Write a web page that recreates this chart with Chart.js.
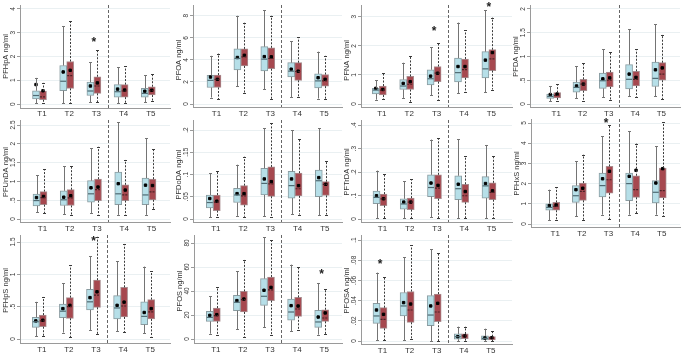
<!DOCTYPE html>
<html><head><meta charset="utf-8">
<script src="https://cdn.jsdelivr.net/npm/chart.js@4.4.0/dist/chart.umd.min.js"></script>
<style>
html,body{margin:0;padding:0;background:#fff;}
#wrap{position:relative;width:685px;height:356px;overflow:hidden;background:#fff;}
#wrap canvas{position:absolute;left:0;top:0;}
</style></head><body><div id="wrap"></div>
<script>
const categories = ['T1','T2','T3','T4','T5'];
// every row: [min, q1, median, q3, max, mean]  (A = light blue, B = dark red)
const PFHpA_A = [[0.04,0.22,0.36,0.56,1.10,0.82],[0.04,0.56,0.96,1.62,3.27,1.35],[0.07,0.36,0.55,0.92,1.76,0.76],[0.04,0.29,0.52,0.82,1.55,0.63],[0.07,0.29,0.45,0.66,1.22,0.54]];
const PFHpA_B = [[0.04,0.18,0.30,0.55,0.89,0.56],[0.04,0.66,1.20,1.79,3.50,1.42],[0.07,0.45,0.76,1.15,2.27,0.89],[0.04,0.29,0.55,0.82,1.60,0.59],[0.11,0.38,0.56,0.73,1.28,0.58]];
const PFOA_A = [[0.59,1.50,2.15,2.60,4.37,2.45],[1.62,3.10,4.13,5.00,8.00,4.22],[1.36,3.00,4.07,5.20,8.50,4.30],[0.62,2.45,2.98,3.75,5.70,3.16],[0.50,1.47,2.10,2.74,4.75,2.39]];
const PFOA_B = [[0.44,1.50,2.24,2.63,4.57,2.24],[1.03,3.45,4.28,5.00,7.37,4.42],[0.47,3.20,4.13,5.10,8.00,4.28],[0.62,2.15,2.95,3.75,6.05,2.98],[0.44,1.62,2.10,2.68,4.37,2.24]];
const PFNA_A = [[0.15,0.35,0.48,0.54,0.82,0.54],[0.21,0.50,0.62,0.84,1.42,0.71],[0.31,0.66,0.87,1.18,1.96,0.96],[0.37,0.76,1.08,1.58,2.80,1.29],[0.41,0.90,1.21,1.80,3.22,1.51]];
const PFNA_B = [[0.17,0.31,0.48,0.62,1.07,0.50],[0.08,0.50,0.68,0.95,1.65,0.77],[0.15,0.77,1.06,1.29,2.10,1.06],[0.41,0.90,1.18,1.55,2.54,1.29],[0.50,1.15,1.55,1.87,2.97,1.77]];
const PFDA_A = [[0.055,0.12,0.16,0.21,0.38,0.20],[0.12,0.25,0.35,0.46,0.79,0.38],[0.14,0.33,0.49,0.65,1.15,0.53],[0.16,0.32,0.52,0.83,1.57,0.63],[0.16,0.37,0.54,0.88,1.68,0.72]];
const PFDA_B = [[0.055,0.13,0.18,0.24,0.42,0.21],[0.055,0.28,0.42,0.52,0.87,0.42],[0.09,0.36,0.50,0.67,1.09,0.55],[0.14,0.38,0.52,0.69,1.15,0.56],[0.10,0.50,0.63,0.87,1.46,0.76]];
const PFUnDA_A = [[0.18,0.35,0.49,0.66,1.16,0.57],[0.13,0.36,0.51,0.75,1.40,0.58],[0.16,0.45,0.67,1.02,1.88,0.83],[0.11,0.38,0.67,1.25,2.57,0.94],[0.11,0.38,0.64,1.09,2.15,0.90]];
const PFUnDA_B = [[0.15,0.38,0.57,0.73,1.33,0.60],[0.11,0.36,0.56,0.78,1.40,0.62],[0.11,0.49,0.78,1.06,1.92,0.85],[0.11,0.49,0.64,0.91,1.57,0.77],[0.27,0.51,0.72,1.06,1.86,0.89]];
const PFDoDA_A = [[0.004,0.025,0.037,0.054,0.103,0.046],[0.007,0.037,0.054,0.069,0.122,0.057],[0.006,0.054,0.080,0.114,0.204,0.090],[0.011,0.047,0.075,0.107,0.200,0.090],[0.008,0.050,0.086,0.110,0.204,0.093]];
const PFDoDA_B = [[0.004,0.019,0.038,0.054,0.108,0.040],[0.005,0.031,0.052,0.075,0.140,0.057],[0.005,0.051,0.079,0.117,0.215,0.084],[0.010,0.052,0.068,0.103,0.179,0.075],[0.010,0.053,0.078,0.084,0.131,0.078]];
const PFTrDA_A = [[0.004,0.065,0.092,0.119,0.206,0.099],[0.004,0.042,0.064,0.086,0.160,0.072],[0.007,0.095,0.134,0.188,0.338,0.153],[0.004,0.082,0.129,0.184,0.339,0.148],[0.004,0.089,0.141,0.180,0.315,0.151]];
const PFTrDA_B = [[0.004,0.057,0.086,0.106,0.192,0.086],[0.004,0.040,0.072,0.089,0.170,0.072],[0.004,0.086,0.131,0.188,0.343,0.143],[0.004,0.071,0.099,0.148,0.266,0.117],[0.004,0.082,0.113,0.154,0.266,0.120]];
const PFHxS_A = [[0.18,0.68,0.82,1.00,1.70,0.91],[0.38,1.07,1.40,1.90,3.10,1.70],[0.46,1.34,1.90,2.52,4.34,2.24],[0.46,1.16,2.00,2.52,4.59,2.36],[0.46,1.04,1.57,2.15,3.85,2.03]];
const PFHxS_B = [[0.21,0.68,0.87,1.07,1.82,0.94],[0.21,1.17,1.62,2.03,3.43,1.77],[0.25,1.53,2.19,2.85,4.92,2.61],[0.54,1.32,1.70,2.39,3.98,2.66],[0.38,1.29,1.65,2.77,5.03,2.74]];
const PFHpS_A = [[0.046,0.18,0.267,0.334,0.575,0.28],[0.10,0.33,0.43,0.54,0.86,0.47],[0.14,0.45,0.575,0.77,1.28,0.64],[0.12,0.31,0.48,0.67,1.20,0.52],[0.087,0.22,0.35,0.575,1.12,0.41]];
const PFHpS_B = [[0.046,0.19,0.28,0.37,0.65,0.29],[0.026,0.32,0.50,0.64,1.14,0.52],[0.07,0.49,0.68,0.91,1.58,0.73],[0.11,0.34,0.51,0.80,1.47,0.57],[0.036,0.31,0.42,0.61,1.05,0.47]];
const PFOS_A = [[4.4,14.7,18.0,23.0,35.6,19.7],[8.3,23.6,30.6,36.4,56.4,32.0],[9.7,28.0,35.6,50.3,85.0,40.6],[6.7,15.6,22.5,33.3,62.0,27.8],[3.6,9.7,14.2,23.9,46.7,18.3]];
const PFOS_B = [[3.6,14.7,19.4,25.8,43.3,20.3],[1.7,22.5,32.8,39.7,66.0,33.3],[3.3,32.0,41.0,51.7,82.2,43.0],[7.8,18.9,25.0,34.7,59.7,27.5],[4.2,14.7,17.5,24.4,41.7,21.7]];
const PFOSA_A = [[0.001,0.0175,0.0248,0.0373,0.0677,0.0307],[0.001,0.0248,0.0347,0.048,0.083,0.038],[0.0,0.0152,0.0257,0.045,0.0908,0.0347],[0.0,0.0017,0.0043,0.007,0.0142,0.0043],[0.0,0.001,0.0026,0.005,0.0122,0.003]];
const PFOSA_B = [[0.001,0.0125,0.0215,0.033,0.063,0.0264],[0.002,0.0185,0.0307,0.049,0.095,0.0366],[0.0,0.0191,0.0287,0.0465,0.0875,0.0373],[0.0,0.0023,0.005,0.007,0.0142,0.005],[0.0,0.001,0.003,0.0043,0.0102,0.0033]];

// y-axis tick values
const PFHpA_ticks = [0,1,2,3,4];
const PFOA_ticks = [0,2,4,6,8];
const PFNA_ticks = [0,1,2,3];
const PFDA_ticks = [0,0.5,1,1.5,2];
const PFUnDA_ticks = [0,0.5,1,1.5,2,2.5];
const PFDoDA_ticks = [0,0.05,0.1,0.15,0.2];
const PFTrDA_ticks = [0,0.1,0.2,0.3,0.4];
const PFHxS_ticks = [0,1,2,3,4,5];
const PFHpS_ticks = [0,0.5,1,1.5];
const PFOS_ticks = [0,20,40,60,80];
const PFOSA_ticks = [0,0.02,0.04,0.06,0.08,0.1];

// significance stars: [category number, value]
const PFHpA_stars = [[3,2.72]];
const PFNA_stars = [[3,2.61],[5,3.45]];
const PFHxS_stars = [[3,5.13]];
const PFHpS_stars = [[3,1.56]];
const PFOS_stars = [[5,56.7]];
const PFOSA_stars = [[1,0.0795]];

// layout (pixels on the page)
const panels = [
  {title:'PFHpA ng/ml', a:PFHpA_A, b:PFHpA_B, ticks:PFHpA_ticks, stars:PFHpA_stars, L:{left:20,right:170,top:3,bottom:108,zero:104,maxPx:7,t1:39.5,sp:27.2,lab:114}},
  {title:'PFOA ng/ml', a:PFOA_A, b:PFOA_B, ticks:PFOA_ticks, stars:[], L:{left:193,right:342,top:3,bottom:107,zero:104,maxPx:14,t1:214,sp:26.9,lab:114}},
  {title:'PFNA ng/ml', a:PFNA_A, b:PFNA_B, ticks:PFNA_ticks, stars:PFNA_stars, L:{left:361,right:512,top:3,bottom:107,zero:104,maxPx:15,t1:379.3,sp:27.4,lab:114}},
  {title:'PFDA ng/ml', a:PFDA_A, b:PFDA_B, ticks:PFDA_ticks, stars:[], L:{left:530,right:684,top:3,bottom:107,zero:104,maxPx:7,t1:554.3,sp:27,lab:114}},
  {title:'PFUnDA ng/ml', a:PFUnDA_A, b:PFUnDA_B, ticks:PFUnDA_ticks, stars:[], L:{left:20,right:170,top:120,bottom:222,zero:219,maxPx:125,t1:40,sp:27.25,lab:229}},
  {title:'PFDoDA ng/ml', a:PFDoDA_A, b:PFDoDA_B, ticks:PFDoDA_ticks, stars:[], L:{left:193,right:342,top:120,bottom:222,zero:219,maxPx:130,t1:213.3,sp:27.25,lab:229}},
  {title:'PFTrDA ng/ml', a:PFTrDA_A, b:PFTrDA_B, ticks:PFTrDA_ticks, stars:[], L:{left:361,right:512,top:120,bottom:222,zero:219,maxPx:125,t1:380,sp:27.25,lab:229}},
  {title:'PFHxS ng/ml', a:PFHxS_A, b:PFHxS_B, ticks:PFHxS_ticks, stars:PFHxS_stars, L:{left:531,right:684,top:119,bottom:227,zero:224,maxPx:123,t1:553.3,sp:27.35,lab:234}},
  {title:'PFHpS ng/ml', a:PFHpS_A, b:PFHpS_B, ticks:PFHpS_ticks, stars:PFHpS_stars, L:{left:20,right:170,top:235,bottom:343,zero:339,maxPx:242,t1:39.3,sp:27.1,lab:350}},
  {title:'PFOS ng/ml', a:PFOS_A, b:PFOS_B, ticks:PFOS_ticks, stars:PFOS_stars, L:{left:194,right:342,top:235,bottom:343,zero:339,maxPx:243,t1:213.3,sp:27.1,lab:350}},
  {title:'PFOSA ng/ml', a:PFOSA_A, b:PFOSA_B, ticks:PFOSA_ticks, stars:PFOSA_stars, L:{left:361,right:512,top:235,bottom:344,zero:341,maxPx:240,t1:380,sp:27.1,lab:351}}
];

const FONT = '"Liberation Sans", Arial, sans-serif';
const BOX_W = 7;
const BLUE = '#b6dfe8', BLUE_EDGE = '#8a9ca1';
const RED = '#a6484f', RED_EDGE = '#a88c8f';
const AXIS = '#9a9a9a', GRID = '#eaf0f2', TEXT = '#333333';

function fmt(v){ if (v === 0) return '0'; return String(+v.toFixed(4)).replace(/^0\./, '.'); }

function makeExtras(p) {
  return {
    id: 'boxExtras',
    afterDatasetsDraw(chart) {
      const ctx = chart.ctx, xs = chart.scales.x, ys = chart.scales.y, ca = chart.chartArea;
      ctx.save();
      // dashed separator between T3 and T4
      const sx = Math.round(xs.getPixelForValue(3.5)) + 0.5;
      ctx.strokeStyle = '#666'; ctx.lineWidth = 1; ctx.setLineDash([3, 2]);
      ctx.beginPath(); ctx.moveTo(sx, ca.top); ctx.lineTo(sx, ca.bottom); ctx.stroke();
      // whiskers and medians
      [[2, p.a, false], [3, p.b, true]].forEach(([di, rows, dashed]) => {
        const meta = chart.getDatasetMeta(di);
        meta.data.forEach((bar, j) => {
          const r = rows[j];
          const cx = Math.round(bar.x) + 0.5, w = bar.width;
          const pMin = ys.getPixelForValue(r[0]), pQ1 = ys.getPixelForValue(r[1]), pMed = ys.getPixelForValue(r[2]);
          const pQ3 = ys.getPixelForValue(r[3]), pMax = ys.getPixelForValue(r[4]);
          ctx.lineWidth = 1;
          ctx.strokeStyle = dashed ? '#3a3a3a' : '#747474';
          ctx.setLineDash(dashed ? [2, 1.5] : []);
          ctx.beginPath();
          ctx.moveTo(cx, pQ3); ctx.lineTo(cx, pMax);
          ctx.moveTo(cx, pQ1); ctx.lineTo(cx, pMin);
          ctx.stroke();
          ctx.setLineDash([]);
          ctx.beginPath();
          ctx.moveTo(cx - 1.5, Math.round(pMax) + 0.5); ctx.lineTo(cx + 1.5, Math.round(pMax) + 0.5);
          ctx.moveTo(cx - 1.5, Math.round(pMin) + 0.5); ctx.lineTo(cx + 1.5, Math.round(pMin) + 0.5);
          ctx.stroke();
          // median
          ctx.strokeStyle = dashed ? '#4d2226' : '#4f6a72';
          ctx.lineWidth = 1.2;
          ctx.setLineDash(dashed ? [2, 1] : []);
          ctx.beginPath(); ctx.moveTo(bar.x - w / 2 + 0.5, pMed); ctx.lineTo(bar.x + w / 2 - 0.5, pMed); ctx.stroke();
          ctx.setLineDash([]);
        });
      });
      ctx.fillStyle = TEXT; ctx.textAlign = 'center'; ctx.textBaseline = 'middle';
      // x category labels
      ctx.font = '8px ' + FONT;
      categories.forEach((c, i) => {
        ctx.fillText(c, xs.getPixelForValue(i + 1) + 2.5, p.L.lab);
      });
      // y tick labels (rotated)
      ctx.font = '6.5px ' + FONT;
      p.ticks.forEach(v => {
        const y = ys.getPixelForValue(v);
        ctx.save(); ctx.translate(ca.left - 6.5, y); ctx.rotate(-Math.PI / 2); ctx.fillText(fmt(v), 0, 0); ctx.restore();
      });
      // y title
      ctx.font = '7.5px ' + FONT;
      const ty = (ys.getPixelForValue(0) + ys.getPixelForValue(p.ticks[p.ticks.length - 1])) / 2;
      ctx.save(); ctx.translate(ca.left - 14, ty); ctx.rotate(-Math.PI / 2); ctx.fillText(p.title, 0, 0); ctx.restore();
      // stars
      ctx.font = 'bold 12px ' + FONT; ctx.textBaseline = 'alphabetic'; ctx.fillStyle = '#222';
      p.stars.forEach(([c, v]) => {
        ctx.fillText('*', xs.getPixelForValue(c), ys.getPixelForValue(v) + 0.57 * 12);
      });
      ctx.restore();
    }
  };
}

const wrap = document.getElementById('wrap');
panels.forEach(p => {
  const L = p.L;
  const tmax = p.ticks[p.ticks.length - 1];
  const ppuY = (L.zero - L.maxPx) / tmax;
  const yMin = -(L.bottom - L.zero) / ppuY;
  const yMax = tmax + (L.maxPx - L.top) / ppuY;
  const xMin = 1 - (L.t1 - L.left) / L.sp;
  const xMax = 1 + (L.right - L.t1) / L.sp;
  const half = (BOX_W / 2) / L.sp;
  const canvas = document.createElement('canvas');
  canvas.width = 685; canvas.height = 356;
  canvas.style.width = '685px'; canvas.style.height = '356px';
  wrap.appendChild(canvas);
  const meanStyle = {type: 'scatter', pointStyle: 'rect', pointRadius: 1.7, backgroundColor: '#000', borderColor: '#000', borderWidth: 1, order: 0};
  new Chart(canvas, {
    type: 'bar',
    data: {
      datasets: [
        Object.assign({label: 'meanA', data: p.a.map((r, i) => ({x: i + 1 - half, y: r[5]}))}, meanStyle),
        Object.assign({label: 'meanB', data: p.b.map((r, i) => ({x: i + 1 + half, y: r[5]}))}, meanStyle),
        {label: 'A', data: p.a.map((r, i) => ({x: i + 1, y: [r[1], r[3]]})), backgroundColor: BLUE, borderColor: BLUE_EDGE, borderWidth: 1, borderSkipped: false, barThickness: BOX_W, order: 1},
        {label: 'B', data: p.b.map((r, i) => ({x: i + 1, y: [r[1], r[3]]})), backgroundColor: RED, borderColor: RED_EDGE, borderWidth: 1, borderSkipped: false, barThickness: BOX_W, order: 1}
      ]
    },
    options: {
      responsive: false, animation: false, devicePixelRatio: 1,
      layout: {padding: {left: L.left, top: L.top, right: 685 - L.right, bottom: 356 - L.bottom}},
      plugins: {legend: {display: false}, tooltip: {enabled: false}},
      scales: {
        x: {
          type: 'linear', min: xMin, max: xMax, offset: false,
          afterFit: s => { s.height = 0; },
          afterBuildTicks: s => { s.ticks = categories.map((c, i) => ({value: i + 1})); },
          grid: {display: true, offset: false, drawOnChartArea: false, drawTicks: false, color: AXIS},
          border: {display: true, color: AXIS, width: 1},
          ticks: {display: false}
        },
        y: {
          type: 'linear', min: yMin, max: yMax, offset: false,
          afterFit: s => { s.width = 0; },
          afterBuildTicks: s => { s.ticks = p.ticks.map(v => ({value: v})); },
          grid: {display: true, offset: false, color: GRID, drawTicks: true, tickLength: 3, tickColor: AXIS},
          border: {display: true, color: AXIS, width: 1},
          ticks: {display: false}
        }
      }
    },
    plugins: [makeExtras(p)]
  });
});
</script>
</body></html>
